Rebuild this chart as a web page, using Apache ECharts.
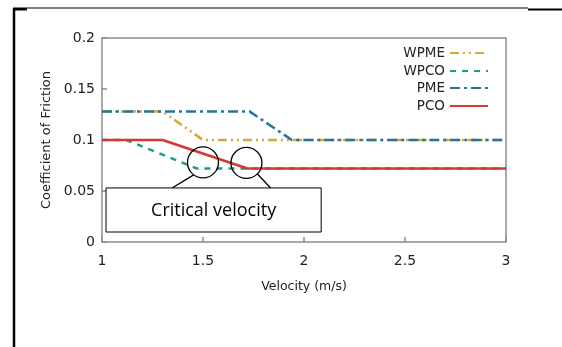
<!DOCTYPE html>
<html>
<head>
<meta charset="utf-8">
<script src="https://cdn.jsdelivr.net/npm/echarts@6/dist/echarts.min.js"></script>
<style>
html,body{margin:0;padding:0;background:#fff;}
#c{width:562px;height:347px;}
</style>
</head>
<body>
<div id="c"></div>
<script>
// Data (velocity m/s, coefficient of friction)
const seriesNames = ['WPME', 'WPCO', 'PME', 'PCO'];
const wpmeX = [1, 1.3, 1.5, 3];
const wpmeY = [0.128, 0.128, 0.1, 0.1];
const wpcoX = [1, 1.12, 1.47, 3];
const wpcoY = [0.1, 0.1, 0.072, 0.072];
const pmeX = [1, 1.73, 1.94, 3];
const pmeY = [0.128, 0.128, 0.1, 0.1];
const pcoX = [1, 1.3, 1.72, 3];
const pcoY = [0.1, 0.1, 0.072, 0.072];
const xTicks = [1, 1.5, 2, 2.5, 3];
const yTicks = [0, 0.05, 0.1, 0.15, 0.2];
// annotation anchors in data coordinates
const circleCenters = [[1.5, 0.078], [1.715, 0.0775]];
const calloutBox = [[1.02, 0.053], [2.085, 0.0098]];
const calloutText = 'Critical velocity';

const colors = {WPME: '#d8a92c', WPCO: '#1c9c80', PME: '#25759f', PCO: '#d23a30'};
const dashes = {WPME: [9, 4, 2, 4, 2, 4], WPCO: [6, 6], PME: [10, 4, 3, 4], PCO: 'solid'};
const xs = {WPME: wpmeX, WPCO: wpcoX, PME: pmeX, PCO: pcoX};
const ys = {WPME: wpmeY, WPCO: wpcoY, PME: pmeY, PCO: pcoY};

const font = 'DejaVu Sans';
const chart = echarts.init(document.getElementById('c'), null, {renderer: 'canvas'});

const drawOrder = ['WPCO', 'WPME', 'PME', 'PCO'];
const series = drawOrder.map(n => ({
  name: n, type: 'line', symbol: 'none', animation: false,
  data: xs[n].map((x, i) => [x, ys[n][i]]),
  lineStyle: {color: colors[n], width: 2.6, type: dashes[n]},
  itemStyle: {color: colors[n]},
  z: n === 'PCO' ? 5 : 3
}));

const legendTops = [46, 64, 81, 99];
const legends = seriesNames.map((n, i) => ({
  data: [n], right: 73, top: legendTops[i], orient: 'horizontal', align: 'right',
  itemWidth: 38, itemHeight: 10, itemGap: 0, padding: 0,
  selectedMode: false,
  itemStyle: {opacity: 0},
  textStyle: {fontFamily: font, fontSize: 13.5, color: '#222', padding: [0, 0, 0, 0]}
}));

chart.setOption({
  animation: false,
  backgroundColor: '#fff',
  grid: {left: 102, right: 56, top: 38, bottom: 105, show: true, borderColor: '#8c8c8c', borderWidth: 1.5, backgroundColor: 'transparent'},
  legend: legends,
  xAxis: {
    type: 'value', min: xTicks[0], max: xTicks[xTicks.length - 1], interval: 0.5,
    name: 'Velocity (m/s)', nameLocation: 'middle', nameGap: 38,
    nameTextStyle: {fontFamily: font, fontSize: 12.5, color: '#222'},
    axisLine: {show: false},
    axisTick: {show: true, inside: true, length: 5, lineStyle: {color: '#8c8c8c', width: 1.5}},
    axisLabel: {fontFamily: font, fontSize: 14, color: '#222', margin: 12, formatter: v => String(v)},
    splitLine: {show: false}
  },
  yAxis: {
    type: 'value', min: yTicks[0], max: yTicks[yTicks.length - 1], interval: 0.05,
    name: 'Coefficient of Friction', nameLocation: 'middle', nameGap: 47,
    nameTextStyle: {fontFamily: font, fontSize: 13, color: '#222'},
    axisLine: {show: false},
    axisTick: {show: true, inside: true, length: 5, lineStyle: {color: '#8c8c8c', width: 1.5}},
    axisLabel: {fontFamily: font, fontSize: 14, color: '#222', margin: 7, formatter: v => String(+v.toFixed(2))},
    splitLine: {show: false}
  },
  series: series
});

function annotate() {
  const g = [];
  // page frame
  g.push({type: 'line', shape: {x1: 14, y1: 8, x2: 14, y2: 347}, style: {stroke: '#000', lineWidth: 2.5}});
  g.push({type: 'line', shape: {x1: 13, y1: 9, x2: 27, y2: 9}, style: {stroke: '#000', lineWidth: 3}});
  g.push({type: 'line', shape: {x1: 27, y1: 8, x2: 528, y2: 8}, style: {stroke: '#000', lineWidth: 1}});
  g.push({type: 'line', shape: {x1: 528, y1: 9.5, x2: 562, y2: 9.5}, style: {stroke: '#000', lineWidth: 2}});
  // circles
  const c1 = chart.convertToPixel({gridIndex: 0}, circleCenters[0]);
  const c2 = chart.convertToPixel({gridIndex: 0}, circleCenters[1]);
  const r = 15.5;
  [c1, c2].forEach(c => g.push({type: 'circle', shape: {cx: c[0], cy: c[1], r: r}, style: {fill: null, stroke: '#000', lineWidth: 1.3}, z: 20}));
  const b1 = chart.convertToPixel({gridIndex: 0}, calloutBox[0]);
  const b2 = chart.convertToPixel({gridIndex: 0}, calloutBox[1]);
  // connector lines
  g.push({type: 'line', shape: {x1: c1[0] - r * 0.6, y1: c1[1] + r * 0.8, x2: c1[0] - 31, y2: b1[1]}, style: {stroke: '#000', lineWidth: 1.3}, z: 20});
  g.push({type: 'line', shape: {x1: c2[0] + r * 0.7, y1: c2[1] + r * 0.7, x2: c2[0] + 26, y2: b1[1] + 2}, style: {stroke: '#000', lineWidth: 1.3}, z: 20});
  // callout box
  g.push({type: 'rect', shape: {x: b1[0], y: b1[1], width: b2[0] - b1[0], height: b2[1] - b1[1]}, style: {fill: '#fff', stroke: '#000', lineWidth: 1}, z: 21});
  g.push({type: 'text', x: (b1[0] + b2[0]) / 2, y: (b1[1] + b2[1]) / 2 + 1, style: {text: calloutText, fontFamily: 'Open Sans', fontSize: 18, fill: '#000', align: 'center', verticalAlign: 'middle'}, z: 22});
  chart.setOption({graphic: g});
}
annotate();
</script>
</body>
</html>
